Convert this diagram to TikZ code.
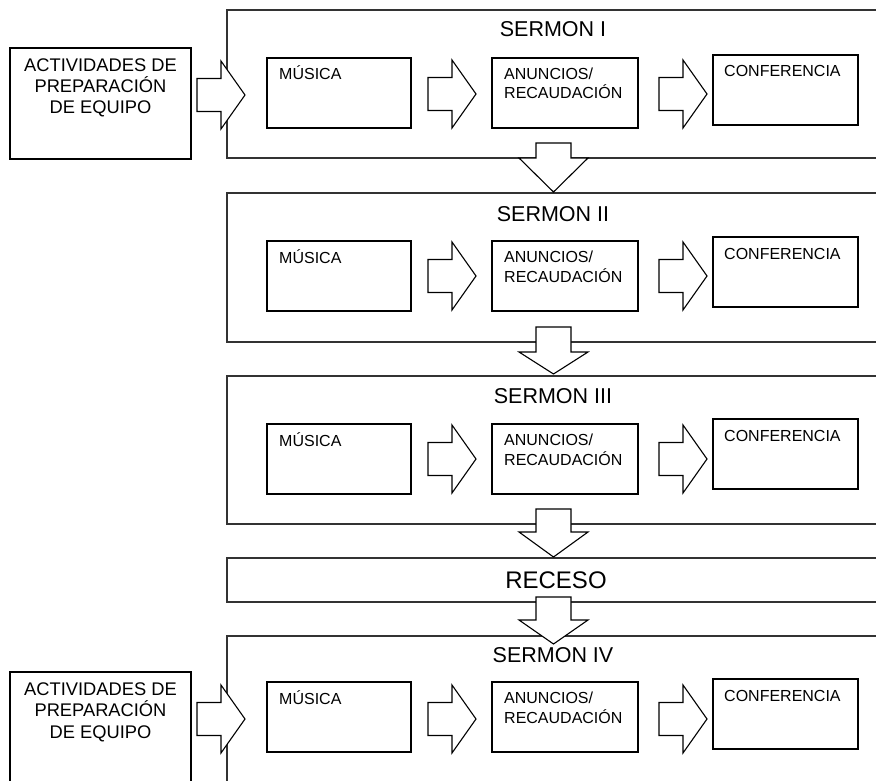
\documentclass[tikz,border=0pt]{standalone}
\usepackage{fontspec}
\setmainfont{Liberation Sans}
\begin{document}
\begin{tikzpicture}[x=1pt,y=-1pt,
  sermonbox/.style={draw=black!80, line width=1.4pt, inner sep=0pt, outer sep=0pt, anchor=north west},
  stepbox/.style={draw=black, line width=1.1pt, inner sep=0pt, outer sep=0pt, anchor=north west},
  blockarrow/.style={draw=black, fill=white, line width=1.1pt, line join=miter},
  steptext/.style={inner sep=0pt, anchor=base west, font=\fontsize{16}{19.5}\selectfont, align=left},
  titletext/.style={inner sep=0pt, anchor=base, font=\fontsize{21.5}{25}\selectfont},
  preptext/.style={inner sep=0pt, anchor=base, font=\fontsize{18.3}{21.5}\selectfont, align=center},
  pics/rblock/.style={code={
    \draw[blockarrow] (0,-16.5) -- (24,-16.5) -- (24,-34) -- (48,0) -- (24,34) -- (24,16.5) -- (0,16.5) -- cycle;}},
  pics/dblock/.style 2 args={code={
    \draw[blockarrow] (-17.5,0) -- (-17.5,#1) -- (-34.5,#1) -- (0,{#1+#2}) -- (34.5,#1) -- (17.5,#1) -- (17.5,0) -- cycle;}}
]
\useasboundingbox (0,0) rectangle (876,781);
\clip (0,0) rectangle (876,781);

% ---- outer frames of the four sessions and the break ----
\node[sermonbox, minimum width=670pt, minimum height=148pt] (sI)   at (227,10)  {};
\node[sermonbox, minimum width=670pt, minimum height=149pt] (sII)  at (227,193) {};
\node[sermonbox, minimum width=670pt, minimum height=148pt] (sIII) at (227,376) {};
\node[sermonbox, minimum width=670pt, minimum height=44pt]  (rec)  at (227,558) {};
\node[sermonbox, minimum width=670pt, minimum height=170pt] (sIV)  at (227,636) {};

\node[titletext] (tI)   at (553,37)  {SERMON I};
\node[titletext] (tII)  at (553,222) {SERMON II};
\node[titletext] (tIII) at (553,403) {SERMON III};
\node[titletext] (tIV)  at (553,662) {SERMON IV};
\node[inner sep=0pt, anchor=base, font=\fontsize{24}{28}\selectfont] (trec) at (556,588) {RECESO};

% ---- team preparation boxes ----
\node[stepbox, minimum width=181pt, minimum height=111pt] (pI)  at (10,48)  {};
\node[stepbox, minimum width=181pt, minimum height=120pt] (pIV) at (10,672) {};
\node[preptext] (ptI)  at (100.5,114) {ACTIVIDADES DE\\PREPARACIÓN\\DE EQUIPO};
\node[preptext] (ptIV) at (100.5,738) {ACTIVIDADES DE\\PREPARACIÓN\\DE EQUIPO};

% ---- inner steps of each session ----
\foreach \id/\top/\ctop in {I/58/55, II/241/237, III/424/419, IV/682/679}{
  \node[stepbox, minimum width=144pt, minimum height=70pt] (m\id) at (267,\top) {};
  \node[stepbox, minimum width=146pt, minimum height=70pt] (a\id) at (492,\top) {};
  \node[stepbox, minimum width=145pt, minimum height=70pt] (c\id) at (713,\ctop) {};
  \node[steptext] (mt\id) at ([xshift=12pt,yshift=-22pt]m\id.north west) {MÚSICA};
  \node[steptext] (at\id) at ([xshift=12pt,yshift=-41pt]a\id.north west) {ANUNCIOS/\\RECAUDACIÓN};
  \node[steptext] (ct\id) at ([xshift=11pt,yshift=-22pt]c\id.north west) {CONFERENCIA};
}

% ---- block arrows inside the sessions ----
\foreach \cy in {94, 276, 459, 719}{
  \pic at (428,\cy) {rblock};
  \pic at (659,\cy) {rblock};
}
\pic at (197,95)  {rblock};
\pic at (197,719) {rblock};

% ---- block arrows between the sessions ----
\pic at (553.5,143) {dblock={15}{34}};
\pic at (553.5,327) {dblock={25}{22}};
\pic at (553.5,509) {dblock={23}{25}};
\pic at (553.5,597) {dblock={23}{24}};
\end{tikzpicture}
\end{document}
